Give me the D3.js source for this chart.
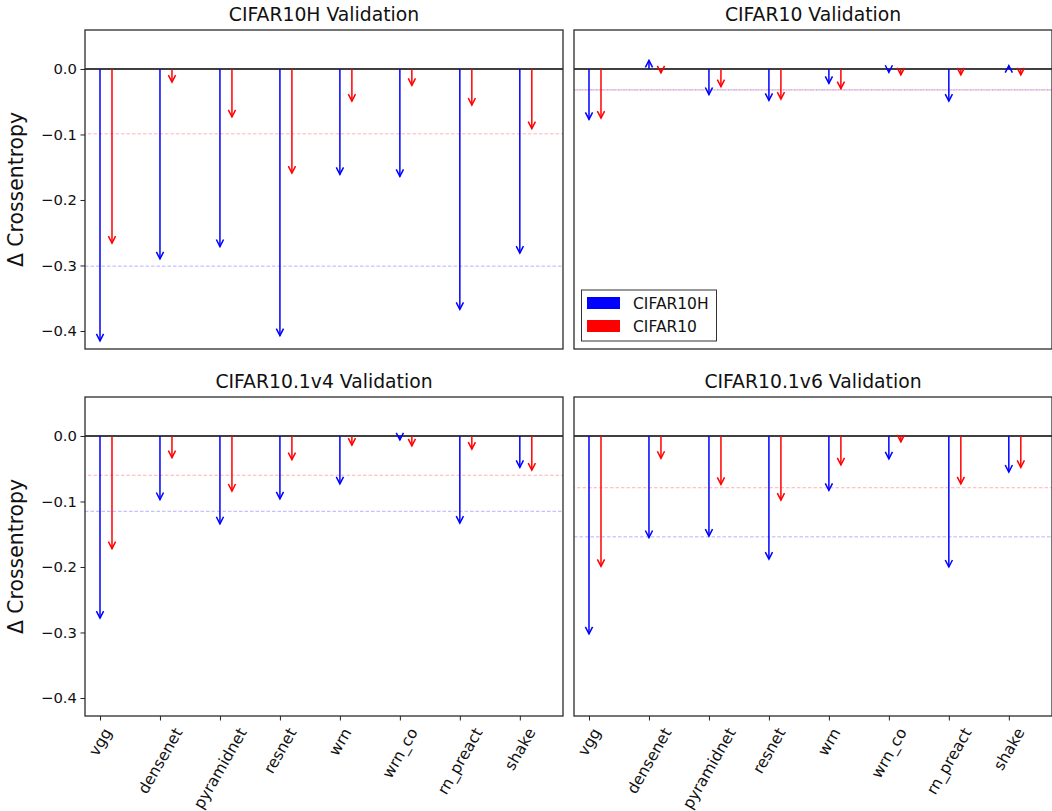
<!DOCTYPE html>
<html lang="en">
<head>
    <meta charset="utf-8">
    <title>Delta Crossentropy</title>
    <script src="https://d3js.org/d3.v7.min.js"></script>
    <style type="text/css">
        body{
            margin: 0;
            background: white;
        }
        svg{
            font-family: "DejaVu Sans", sans-serif;
        }
    </style>
</head>
<body>
    <svg id="chart" width="1052" height="811"></svg>

    <script type="text/javascript">

        // models on the x axis
        const models = ['vgg','densenet','pyramidnet','resnet','wrn','wrn_co','rn_preact','shake'];
        const titles = ['CIFAR10H Validation','CIFAR10 Validation','CIFAR10.1v4 Validation','CIFAR10.1v6 Validation'];
        const seriesNames = ['CIFAR10H','CIFAR10'];
        const yTicks = [0, -0.1, -0.2, -0.3, -0.4];

        // change in crossentropy, trained on CIFAR10H (blue) / CIFAR10 (red)
        const h10Val_cifar10h = [-0.415, -0.290, -0.271, -0.407, -0.161, -0.164, -0.367, -0.281];
        const h10Val_cifar10  = [-0.266, -0.020, -0.073, -0.159, -0.049, -0.025, -0.055, -0.091];

        const c10Val_cifar10h = [-0.077, 0.013, -0.039, -0.048, -0.022, -0.005, -0.049, 0.005];
        const c10Val_cifar10  = [-0.075, -0.006, -0.027, -0.046, -0.030, -0.009, -0.009, -0.009];

        const v4Val_cifar10h = [-0.278, -0.097, -0.134, -0.096, -0.073, -0.006, -0.133, -0.048];
        const v4Val_cifar10  = [-0.172, -0.033, -0.084, -0.036, -0.014, -0.015, -0.020, -0.052];

        const v6Val_cifar10h = [-0.302, -0.155, -0.153, -0.188, -0.083, -0.035, -0.200, -0.055];
        const v6Val_cifar10  = [-0.199, -0.034, -0.074, -0.098, -0.044, -0.009, -0.073, -0.048];

        // dashed average lines per panel
        const meanLine_cifar10h = [-0.301, -0.032, -0.115, -0.154];
        const meanLine_cifar10  = [-0.099, -0.032, -0.060, -0.079];

        const blueSets = [h10Val_cifar10h, c10Val_cifar10h, v4Val_cifar10h, v6Val_cifar10h];
        const redSets  = [h10Val_cifar10, c10Val_cifar10, v4Val_cifar10, v6Val_cifar10];

        const colors = ['#0000ff', '#ff0000'];
        const offsets = [0, 0.2];

        const svg = d3.select('#chart');

        const cols = [[85, 563], [574, 1052]];
        const rows = [[30, 349], [397, 716]];

        const headLen = 7, headW = 3.6;

        titles.forEach((title, p) => {
            const col = p % 2, row = Math.floor(p / 2);
            const [x0, x1] = cols[col];
            const [y0, y1] = rows[row];

            const x = d3.scaleLinear().domain([-0.25, 7.72]).range([x0, x1]);
            const y = d3.scaleLinear().domain([-0.4275, 0.0595]).range([y1, y0]);

            const g = svg.append('g');

            // clip so nothing spills out of the axes box
            const clipId = 'clip' + p;
            g.append('clipPath').attr('id', clipId)
                .append('rect')
                .attr('x', x0).attr('y', y0)
                .attr('width', x1 - x0).attr('height', y1 - y0);

            const plot = g.append('g').attr('clip-path', 'url(#' + clipId + ')');

            // mean lines
            [meanLine_cifar10h[p], meanLine_cifar10[p]].forEach((m, s) => {
                plot.append('line')
                    .attr('x1', x0).attr('x2', x1)
                    .attr('y1', y(m)).attr('y2', y(m))
                    .attr('stroke', colors[s])
                    .attr('stroke-opacity', 0.3)
                    .attr('stroke-width', 1)
                    .attr('stroke-dasharray', '3.5,2')
                    .attr('stroke-dashoffset', s * 2.5);
            });

            // zero line
            plot.append('line')
                .attr('x1', x0).attr('x2', x1)
                .attr('y1', y(0)).attr('y2', y(0))
                .attr('stroke', 'black')
                .attr('stroke-width', 1.6);

            // arrows
            [blueSets[p], redSets[p]].forEach((vals, s) => {
                const arrows = plot.selectAll('g.arr' + s)
                    .data(vals)
                    .enter()
                    .append('g')
                    .attr('class', 'arr' + s)
                    .attr('stroke', colors[s])
                    .attr('stroke-width', 1.5)
                    .attr('fill', 'none');

                arrows.append('line')
                    .attr('x1', (d, i) => x(i + offsets[s]))
                    .attr('x2', (d, i) => x(i + offsets[s]))
                    .attr('y1', y(0))
                    .attr('y2', d => y(d));

                arrows.append('path')
                    .attr('d', (d, i) => {
                        const cx = x(i + offsets[s]);
                        const ty = y(d);
                        const dir = d < 0 ? -1 : 1;   // -1 means pointing down
                        const by = ty + dir * headLen;
                        return 'M' + (cx - headW) + ',' + by + 'L' + cx + ',' + ty + 'L' + (cx + headW) + ',' + by;
                    });
            });

            // frame
            g.append('rect')
                .attr('x', x0).attr('y', y0)
                .attr('width', x1 - x0).attr('height', y1 - y0)
                .attr('fill', 'none')
                .attr('stroke', '#2b2b2b')
                .attr('stroke-width', 1.3);

            // title
            g.append('text')
                .attr('x', (x0 + x1) / 2)
                .attr('y', y0 - 9)
                .attr('text-anchor', 'middle')
                .attr('font-size', '18.8px')
                .attr('fill', '#111')
                .text(title);

            // y axis on the left column only
            if (col === 0) {
                const yAxis = g.append('g')
                    .attr('transform', 'translate(' + x0 + ',0)')
                    .call(d3.axisLeft(y).tickValues(yTicks).tickFormat(d3.format('.1f')).tickSize(4.5).tickPadding(3.5));
                yAxis.select('.domain').remove();
                yAxis.selectAll('text')
                    .attr('font-family', '"DejaVu Sans", sans-serif')
                    .attr('font-size', '14.8px')
                    .attr('fill', '#111');
                yAxis.selectAll('line').attr('stroke', '#222').attr('stroke-width', 1);

                g.append('text')
                    .attr('transform', 'translate(23,' + ((y0 + y1) / 2) + ') rotate(-90)')
                    .attr('text-anchor', 'middle')
                    .attr('font-size', '20.4px')
                    .attr('fill', '#111')
                    .text('\u0394 Crossentropy');
            }

            // x axis on the bottom row only
            if (row === 1) {
                const xAxis = g.append('g')
                    .attr('transform', 'translate(0,' + y1 + ')')
                    .call(d3.axisBottom(x).tickValues(d3.range(models.length)).tickFormat(i => models[i]).tickSize(4.5));
                xAxis.select('.domain').remove();
                xAxis.selectAll('line').attr('stroke', '#222').attr('stroke-width', 1);
                const fs = 15.6;
                xAxis.selectAll('text')
                    .attr('font-family', '"DejaVu Sans", sans-serif')
                    .attr('font-size', fs + 'px')
                    .attr('fill', '#111')
                    .attr('text-anchor', 'middle')
                    .attr('dominant-baseline', 'central')
                    .attr('y', 0)
                    .attr('dy', null)
                    .each(function () {
                        const w = this.getComputedTextLength();
                        const cy = 9 + 0.433 * w + 0.25 * fs * 1.17;
                        d3.select(this).attr('transform', 'translate(0,' + cy + ') rotate(-60)');
                    });
            }
        });

        // legend inside the CIFAR10 Validation panel
        const legend = svg.append('g');
        legend.append('rect')
            .attr('x', 581.5).attr('y', 290)
            .attr('width', 135).attr('height', 51)
            .attr('fill', 'white')
            .attr('stroke', '#333')
            .attr('stroke-width', 1);

        seriesNames.forEach((name, s) => {
            legend.append('rect')
                .attr('x', 587).attr('y', 297 + s * 23)
                .attr('width', 33).attr('height', 12)
                .attr('fill', colors[s]);
            legend.append('text')
                .attr('x', 633).attr('y', 309 + s * 23)
                .attr('font-size', '15.5px')
                .attr('fill', '#111')
                .text(name);
        });
    </script>
</body>
</html>
